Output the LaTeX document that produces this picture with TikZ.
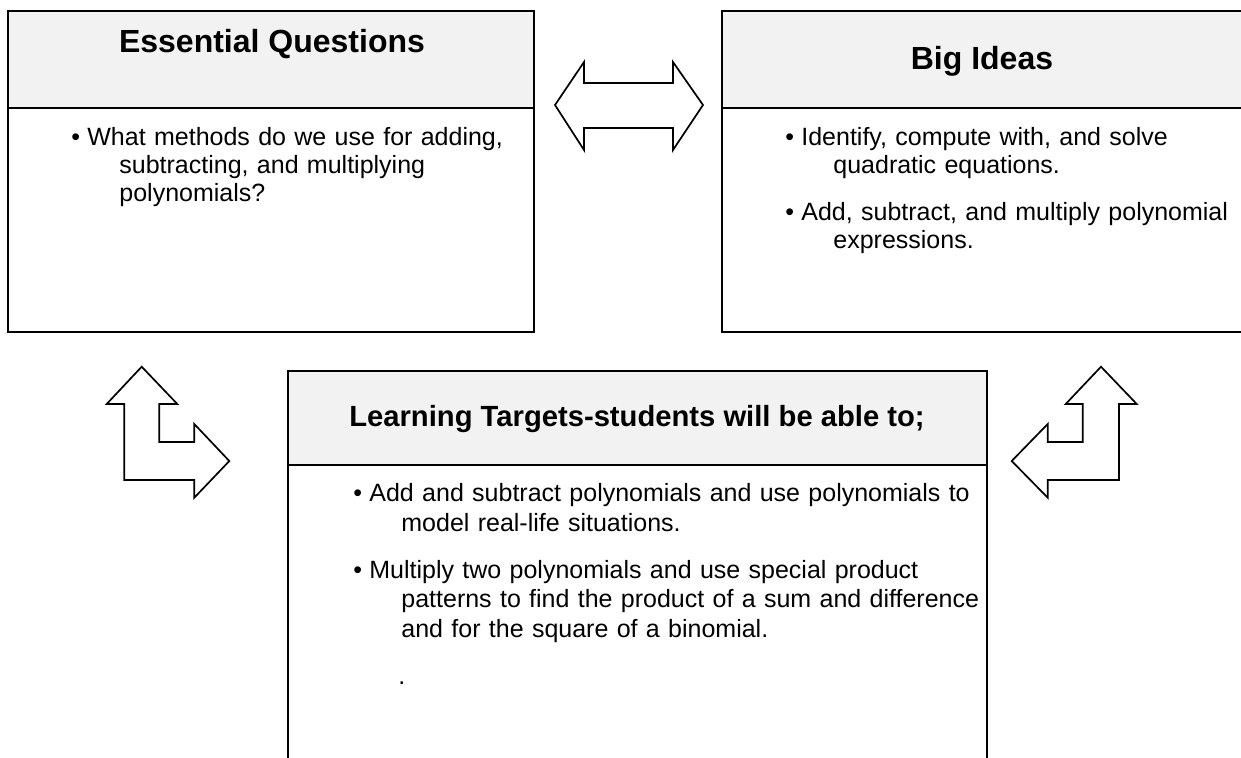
\documentclass[tikz,border=0pt]{standalone}
\usepackage{fontspec}
\setmainfont{Liberation Sans}
\definecolor{headgray}{HTML}{F2F2F2}
\tikzstyle{headbox} = [draw=black, line width=1.2pt, fill=headgray, inner sep=0pt, outer sep=0pt, anchor=north west]
\tikzstyle{bodybox} = [draw=black, line width=1.2pt, inner sep=0pt, outer sep=0pt, anchor=north west]
\tikzstyle{headtext} = [font={\bfseries\fontsize{16}{19}\selectfont}, inner sep=0pt, anchor=base]
\tikzstyle{bullets} = [font={\fontsize{12.5}{14}\selectfont}, text width=400pt, align=left, inner sep=0pt, anchor=base west]
\tikzstyle{widebullets} = [bullets, font={\fontsize{12.5}{14.8}\selectfont}]
\tikzstyle{blockarrow} = [draw=black, line width=0.85pt, line join=miter, fill=white]
\newcommand{\blt}{\makebox[8pt][l]{\textbullet}}
\newcommand{\cont}{\hspace*{24pt}}

\begin{document}
\begin{tikzpicture}[x=0.5pt, y=-0.5pt]
    \useasboundingbox (0,0) rectangle (1241,757);
    \clip (0,0) rectangle (1241,757);
    % the three boxes
    \node[headbox, minimum width=263pt, minimum height=48.5pt](eqhead) at (8,11){};
    \node[bodybox, minimum width=263pt, minimum height=112pt](eqbody) at (eqhead.south west){};
    \node[headbox, minimum width=264pt, minimum height=48.5pt](bihead) at (722,11){};
    \node[bodybox, minimum width=264pt, minimum height=112pt](bibody) at (bihead.south west){};
    \node[headbox, minimum width=349.5pt, minimum height=47pt](lthead) at (288,371){};
    \node[bodybox, minimum width=349.5pt, minimum height=162.5pt](ltbody) at (lthead.south west){};
    % titles
    \node[headtext](eqtitle) at (272,52.7){Essential Questions};
    \node[headtext](bititle) at (982,69){Big Ideas};
    \node[headtext, font={\bfseries\fontsize{14.6}{18}\selectfont}](lttitle) at (637,426.7){Learning Targets-students will be able to;};
    % texts
    \node[bullets](eq1) at (71,145){\blt What methods do we use for adding,\\\cont subtracting, and multiplying\\\cont polynomials?};
    \node[bullets](bi1) at (785,145){\blt Identify, compute with, and solve\\\cont quadratic equations.};
    \node[bullets](bi2) at (785,220.7){\blt Add, subtract, and multiply polynomial\\\cont expressions.};
    \node[widebullets](lt1) at (353,501.7){\blt Add and subtract polynomials and use polynomials to\\\cont model real-life situations.};
    \node[widebullets](lt2) at (353,578){\blt Multiply two polynomials and use special product\\\cont patterns to find the product of a sum and difference\\\cont and for the square of a binomial.};
    \node[widebullets](lt3) at (398,684){.};
    % arrows
    \draw[blockarrow] (555,105) -- (584,62) -- (584,83) -- (673,83) -- (673,62) -- (703,105)
        -- (673,150) -- (673,128) -- (584,128) -- (584,150) -- cycle;
    \draw[blockarrow] (141.7,366.7) -- (177.3,404) -- (159.3,404) -- (159.3,442) -- (194.3,442)
        -- (194.3,424) -- (229.3,461) -- (194.3,497.7) -- (194.3,480) -- (124.3,480)
        -- (124.3,404) -- (106.7,404) -- cycle;
    \draw[blockarrow] (1101,366.7) -- (1136.7,404) -- (1119,404) -- (1119,480) -- (1047.7,480)
        -- (1047.7,497.7) -- (1011.7,461) -- (1047.7,424) -- (1047.7,442) -- (1082.7,442)
        -- (1082.7,404) -- (1065.7,404) -- cycle;
\end{tikzpicture}
\end{document}
